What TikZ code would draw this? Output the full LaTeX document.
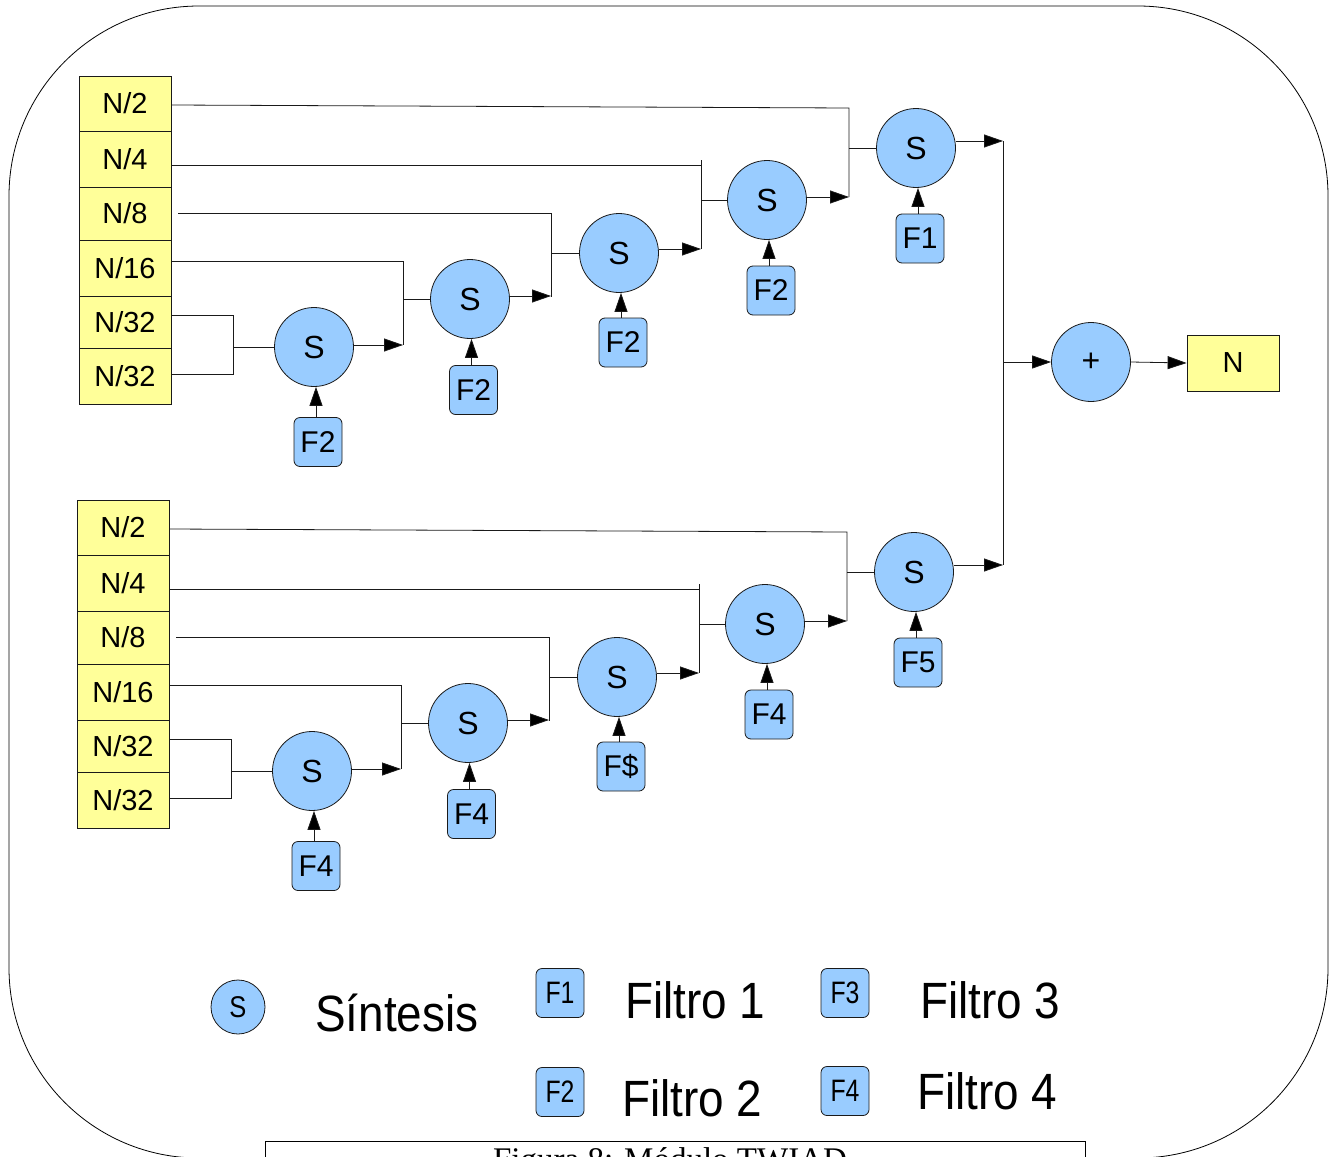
\documentclass[tikz,border=0pt]{standalone}
\usepackage{fontspec}
\setmainfont{Liberation Sans}
\newfontfamily\capfont{Liberation Serif}
\usetikzlibrary{arrows.meta}

\definecolor{bandfill}{HTML}{FFFF99}
\definecolor{synthfill}{HTML}{99CCFF}
\definecolor{edge}{HTML}{1A1A1A}

\tikzset{
  wire/.style={draw=edge,line width=0.8pt},
  flow/.style={wire,-{Triangle[length=19pt,width=13pt,fill=black]}},
  band/.style={draw=edge,line width=0.8pt,fill=bandfill,minimum width=92pt,
    inner sep=0pt,font=\fontsize{29}{32}\selectfont},
  synth/.style={circle,draw=edge,line width=0.8pt,fill=synthfill,minimum size=79pt,
    inner sep=0pt,font=\fontsize{32}{35}\selectfont},
  filt/.style={draw=edge,line width=0.8pt,fill=synthfill,rounded corners=6pt,
    minimum width=48pt,minimum height=49pt,inner sep=0pt,font=\fontsize{30}{32}\selectfont},
  keyfilt/.style={filt,font=\fontsize{31}{33}\selectfont},
  keytext/.style={anchor=base west,inner sep=0pt,font=\fontsize{51}{55}\selectfont,xscale=0.9},
}

% one decomposition tree: six bands merged by five synthesis stages
\newcommand\synthblock[5]{%
  \node[band,minimum height=55pt] (r2)   at (125,103.5) {N/2};
  \node[band,minimum height=56pt] (r4)   at (125,159)   {N/4};
  \node[band,minimum height=53pt] (r8)   at (125,213.5) {N/8};
  \node[band,minimum height=56pt] (r16)  at (125,268)   {N/16};
  \node[band,minimum height=52pt] (r32a) at (125,322)   {N/32};
  \node[band,minimum height=56pt] (r32b) at (125,376)   {N/32};
  \node[synth] (s0) at (314,347) {S};
  \node[synth] (s1) at (470,299) {S};
  \node[synth] (s2) at (619,253) {S};
  \node[synth] (s3) at (767,200) {S};
  \node[synth] (s4) at (916,148) {S};
  \node[filt] (f0) at (318,442)   {#1};
  \node[filt] (f1) at (473.5,390) {#2};
  \node[filt] (f2) at (623,342.5) {#3};
  \node[filt] (f3) at (771,290.5) {#4};
  \node[filt] (f4) at (920,238.5) {#5};
  % junction points
  \coordinate (j0a) at (233,315); \coordinate (j0b) at (233,374); \coordinate (j0) at (233,347);
  \coordinate (j1a) at (403,261); \coordinate (j1b) at (403,345); \coordinate (j1) at (403,299);
  \coordinate (j2a) at (551,213); \coordinate (j2b) at (551,297); \coordinate (j2) at (551,253);
  \coordinate (j3a) at (701,160); \coordinate (j3b) at (701,249); \coordinate (j3) at (701,200);
  \coordinate (j4a) at (849,108); \coordinate (j4b) at (849,197); \coordinate (j4) at (849,148);
  % first stage: the two N/32 bands
  \draw[wire] (r32a.east |- j0a) -- (j0a) -- (j0b) -- (r32b.east |- j0b);
  \draw[wire] (j0) -- (s0.west);
  \draw[flow] (s0.east |- j1b) -- (j1b);
  % later stages
  \draw[wire] (r16.east |- j1a) -- (j1a) -- (j1b);
  \draw[wire] (j1) -- (s1.west);
  \draw[flow] (s1.east |- 0,296) -- (j2b |- 0,296);
  \draw[wire] ([xshift=7pt]r8.east |- j2a) -- (j2a) -- (j2b);
  \draw[wire] (j2) -- (s2.west);
  \draw[flow] (s2.east |- j3b) -- (j3b);
  \draw[wire] (r4.east |- 0,165) -- (j3a |- 0,165);
  \draw[wire] (j3a) -- (j3b);
  \draw[wire] (j3) -- (s3.west);
  \draw[flow] (s3.east |- j4b) -- (j4b);
  \draw[wire] (r2.east |- 0,105) -- (j4a) -- (j4b);
  \draw[wire] (j4) -- (s4.west);
  % filters feeding each stage
  \foreach \k in {0,...,4}{
    \draw[flow] ([xshift=-2pt]f\k.north) -- ([xshift=-2pt]f\k.north |- s\k.south);
  }
}

\begin{document}
\begin{tikzpicture}[x=1pt,y=-1pt]
\useasboundingbox (0,0) rectangle (1329,1156);
\clip (0,0) rectangle (1329,1156);

% frame
\draw[line width=0.8pt,rounded corners=190pt] (9,6) rectangle (1328,1158);

\begin{scope}[name prefix=t-]
  \synthblock{F2}{F2}{F2}{F2}{F1}
\end{scope}
\begin{scope}[name prefix=b-,shift={(-2,424)}]
  \synthblock{F4}{F4}{F\$}{F4}{F5}
\end{scope}

% summation of both trees
\node[synth] (plus) at (1091,362) {+};
\node[band,minimum height=56pt] (out) at (1233,363) {N};
\coordinate (bustop) at (1003,141);
\coordinate (busbot) at (1003,565);
\draw[flow] (t-s4.east |- bustop) -- (bustop);
\draw[flow] (b-s4.east |- busbot) -- (busbot);
\draw[wire] (bustop) -- (busbot);
\draw[flow] (bustop |- plus.west) -- (plus.west);
\draw[flow] (plus.east) -- (out.west);

% key
\node[synth,minimum size=54pt,font=\fontsize{30}{32}\selectfont] (kS) at (238,1007) {\scalebox{0.85}[1]{S}};
\node[keytext] (kSt) at (315,1031) {Síntesis};
\node[keyfilt] (k1) at (560,993) {\scalebox{0.8}[1]{F1}};
\node[keytext] (k1t) at (625,1018) {Filtro 1};
\node[keyfilt] (k3) at (845,993) {\scalebox{0.8}[1]{F3}};
\node[keytext] (k3t) at (920,1018) {Filtro 3};
\node[keyfilt] (k2) at (560,1092) {\scalebox{0.8}[1]{F2}};
\node[keytext] (k2t) at (622,1116) {Filtro 2};
\node[keyfilt] (k4) at (845,1091) {\scalebox{0.8}[1]{F4}};
\node[keytext] (k4t) at (917,1109) {Filtro 4};

% caption box, running past the lower edge
\draw[line width=0.8pt] (265,1141) rectangle (1085,1220);
\node[anchor=base,inner sep=0pt,font=\capfont\fontsize{33}{36}\selectfont] (cap) at (670,1170) {Figura 8: Módulo TWIAD};
\end{tikzpicture}
\end{document}
